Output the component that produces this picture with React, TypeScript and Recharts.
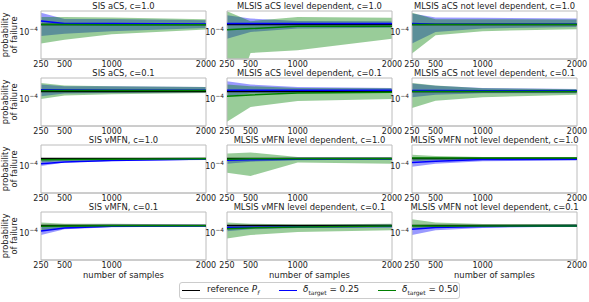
import React from 'react'
import { ComposedChart, Area, Line, XAxis, YAxis, ReferenceArea } from 'recharts'

const samples = [250, 500, 1000, 2000]
const referencePf = 1.48e-4
const unit = 1e-4

const titles = [
  'SIS aCS, c=1.0',
  'MLSIS aCS level dependent, c=1.0',
  'MLSIS aCS not level dependent, c=1.0',
  'SIS aCS, c=0.1',
  'MLSIS aCS level dependent, c=0.1',
  'MLSIS aCS not level dependent, c=0.1',
  'SIS vMFN, c=1.0',
  'MLSIS vMFN level dependent, c=1.0',
  'MLSIS vMFN not level dependent, c=1.0',
  'SIS vMFN, c=0.1',
  'MLSIS vMFN level dependent, c=0.1',
  'MLSIS vMFN not level dependent, c=0.1'
]

// delta_target = 0.25 (blue), values in units of 1e-4
const blueLow = [
  [0.81, 0.91, 1.04, 1.23],
  [0.7, 1.0, 1.19, 1.25],
  [0.54, 1.0, 1.19, 1.3],
  [1.15, 1.32, 1.37, 1.42],
  [1.15, 1.32, 1.37, 1.42],
  [1.09, 1.25, 1.35, 1.35],
  [1.0, 1.19, 1.3, 1.37],
  [1.12, 1.25, 1.35, 1.39],
  [0.95, 1.12, 1.28, 1.32],
  [0.89, 1.21, 1.35, 1.39],
  [1.09, 1.21, 1.3, 1.37],
  [0.89, 1.15, 1.3, 1.39]
]
const blueHigh = [
  [2.72, 1.98, 1.98, 1.85],
  [2.41, 2.02, 1.78, 1.76],
  [2.62, 2.12, 2.09, 2.02],
  [2.12, 1.95, 1.95, 1.88],
  [2.54, 2.12, 1.88, 1.78],
  [2.25, 2.0, 1.78, 1.69],
  [1.35, 1.39, 1.44, 1.5],
  [1.5, 1.46, 1.55, 1.55],
  [1.46, 1.46, 1.46, 1.52],
  [1.44, 1.5, 1.55, 1.55],
  [1.5, 1.44, 1.5, 1.55],
  [1.44, 1.44, 1.5, 1.55]
]
const blueMean = [
  [1.78, 1.55, 1.55, 1.52],
  [1.55, 1.55, 1.56, 1.56],
  [1.55, 1.5, 1.5, 1.5],
  [1.62, 1.6, 1.58, 1.58],
  [1.58, 1.58, 1.58, 1.58],
  [1.55, 1.55, 1.54, 1.54],
  [1.12, 1.23, 1.32, 1.44],
  [1.35, 1.38, 1.42, 1.44],
  [1.19, 1.28, 1.39, 1.42],
  [1.11, 1.3, 1.42, 1.44],
  [1.33, 1.35, 1.38, 1.4],
  [1.21, 1.33, 1.4, 1.44]
]

// delta_target = 0.50 (green)
const greenLow = [
  [0.54, 0.66, 0.88, 1.13],
  [0.01, 0.33, 0.38, 0.7],
  [0.32, 0.84, 1.04, 1.15],
  [1.0, 1.19, 1.28, 1.37],
  [0.3, 0.65, 0.9, 1.0],
  [0.62, 0.91, 1.09, 1.25],
  [1.19, 1.3, 1.35, 1.42],
  [0.7, 0.59, 1.19, 1.12],
  [1.28, 1.35, 1.39, 1.42],
  [1.15, 1.3, 1.44, 1.44],
  [0.74, 0.89, 1.05, 1.15],
  [1.25, 1.37, 1.44, 1.44]
]
const greenHigh = [
  [2.2, 2.2, 2.12, 1.95],
  [2.97, 1.76, 2.2, 2.09],
  [2.72, 1.95, 1.95, 1.91],
  [2.32, 2.02, 1.95, 1.88],
  [2.12, 1.95, 1.78, 1.76],
  [2.32, 2.02, 1.76, 1.66],
  [1.5, 1.5, 1.5, 1.55],
  [1.91, 2.02, 1.6, 1.6],
  [1.8, 1.69, 1.6, 1.6],
  [1.72, 1.62, 1.62, 1.55],
  [1.72, 1.62, 1.55, 1.62],
  [2.05, 1.72, 1.6, 1.6]
]
const greenMean = [
  [1.48, 1.48, 1.46, 1.46],
  [1.12, 1.19, 1.35, 1.35],
  [1.47, 1.47, 1.47, 1.47],
  [1.55, 1.55, 1.55, 1.55],
  [1.15, 1.23, 1.37, 1.42],
  [1.48, 1.48, 1.48, 1.48],
  [1.38, 1.4, 1.42, 1.45],
  [1.42, 1.45, 1.45, 1.46],
  [1.52, 1.52, 1.52, 1.52],
  [1.42, 1.44, 1.46, 1.46],
  [1.25, 1.3, 1.37, 1.44],
  [1.45, 1.44, 1.44, 1.44]
]

const yDomain = [2.4e-5, 3.0e-4]
const yTicks = [1e-4]

const FONT = "'DejaVu Sans', sans-serif"
const FS = 8.4
const TICK_FS = 8
const GRAY = '#bcbcbc'
const PLOT_W = 165
const PLOT_H = 48
const colLeft = [41, 227, 412]
const rowTop = [11, 78, 145, 212]
const ML = 40
const MT = 2
const MR = 14
const MB = 13

const PowTick = (props: any) => {
  const { x, y } = props
  return (
    <text x={x} y={y} textAnchor='end' fontSize={TICK_FS} fill='#222' fontFamily={FONT} dy={3}>
      10
      <tspan dy={-4} fontSize={5.8}>
        −4
      </tspan>
    </text>
  )
}

function Panel({ i }: { i: number }) {
  const row = Math.floor(i / 3)
  const col = i % 3
  const data = samples.map((x, k) => ({
    x,
    blue: [blueLow[i][k] * unit, blueHigh[i][k] * unit],
    green: [greenLow[i][k] * unit, greenHigh[i][k] * unit],
    bm: blueMean[i][k] * unit,
    gm: greenMean[i][k] * unit,
    ref: referencePf
  }))
  return (
    <>
      <div
        style={{
          position: 'absolute',
          left: colLeft[col] - 30,
          width: PLOT_W + 60,
          top: rowTop[row] - 9,
          height: 8,
          textAlign: 'center',
          fontSize: FS,
          lineHeight: '8px',
          color: '#222',
          whiteSpace: 'nowrap'
        }}
      >
        {titles[i]}
      </div>
      <div style={{ position: 'absolute', left: colLeft[col] - ML, top: rowTop[row] - MT }}>
        <ComposedChart
          width={ML + PLOT_W + MR}
          height={MT + PLOT_H + MB}
          data={data}
          margin={{ top: MT, right: MR, left: 0, bottom: 0 }}
        >
          <XAxis
            dataKey='x'
            type='number'
            domain={[250, 2000]}
            ticks={samples}
            interval={0}
            height={MB}
            tickLine={false}
            tickSize={0}
            tickMargin={2}
            axisLine={{ stroke: GRAY }}
            tick={{ fontSize: TICK_FS, fill: '#222', fontFamily: FONT }}
          />
          <YAxis
            scale='log'
            domain={yDomain}
            allowDataOverflow
            ticks={yTicks}
            width={ML}
            tickLine={false}
            tickSize={0}
            tickMargin={3}
            axisLine={false}
            tick={<PowTick />}
          />
          <Area
            dataKey='blue'
            type='linear'
            stroke='none'
            fill='#0000ff'
            fillOpacity={0.4}
            isAnimationActive={false}
          />
          <Area
            dataKey='green'
            type='linear'
            stroke='none'
            fill='#008000'
            fillOpacity={0.4}
            isAnimationActive={false}
          />
          <Line dataKey='ref' stroke='#000' strokeWidth={1.5} dot={false} isAnimationActive={false} />
          <Line dataKey='bm' stroke='#0000ff' strokeWidth={1.5} dot={false} isAnimationActive={false} />
          <Line dataKey='gm' stroke='#008000' strokeWidth={1.5} dot={false} isAnimationActive={false} />
          <ReferenceArea x1={250} x2={2000} y1={yDomain[0]} y2={yDomain[1]} fill='none' stroke={GRAY} />
        </ComposedChart>
      </div>
    </>
  )
}

const legendLine = (left: number, color: string) => (
  <div
    style={{
      position: 'absolute',
      left,
      top: 7,
      width: 18,
      height: 0,
      borderTop: `1.5px solid ${color}`
    }}
  />
)

export default function App() {
  return (
    <div
      style={{
        position: 'absolute',
        left: 0,
        top: 0,
        width: 589,
        height: 302,
        background: '#fff',
        fontFamily: FONT,
        color: '#222'
      }}
    >
      {titles.map((_, i) => (
        <Panel key={i} i={i} />
      ))}
      {rowTop.map((t, r) => (
        <div
          key={r}
          style={{
            position: 'absolute',
            left: 10 - 30,
            top: t + PLOT_H / 2 - 9,
            width: 60,
            height: 18,
            transform: 'rotate(-90deg)',
            textAlign: 'center',
            fontSize: FS,
            lineHeight: '9px'
          }}
        >
          probability
          <br />
          of failure
        </div>
      ))}
      {colLeft.map((l, c) => (
        <div
          key={c}
          style={{
            position: 'absolute',
            left: l,
            width: PLOT_W,
            top: 271,
            height: 9,
            textAlign: 'center',
            fontSize: FS,
            lineHeight: '9px'
          }}
        >
          number of samples
        </div>
      ))}
      <div
        style={{
          position: 'absolute',
          left: 179,
          top: 282,
          width: 281,
          height: 17,
          border: '1px solid #cccccc',
          borderRadius: 3,
          boxSizing: 'border-box',
          fontSize: 8.8
        }}
      >
        {legendLine(2, '#000')}
        <div style={{ position: 'absolute', left: 27, top: 1, whiteSpace: 'nowrap' }}>
          reference <i>P</i>
          <sub style={{ fontSize: 6 }}>
            <i>f</i>
          </sub>
        </div>
        {legendLine(99, '#0000ff')}
        <div style={{ position: 'absolute', left: 123, top: 1, whiteSpace: 'nowrap' }}>
          <i>δ</i>
          <sub style={{ fontSize: 6 }}>target</sub> = 0.25
        </div>
        {legendLine(198, '#008000')}
        <div style={{ position: 'absolute', left: 222, top: 1, whiteSpace: 'nowrap' }}>
          <i>δ</i>
          <sub style={{ fontSize: 6 }}>target</sub> = 0.50
        </div>
      </div>
    </div>
  )
}
